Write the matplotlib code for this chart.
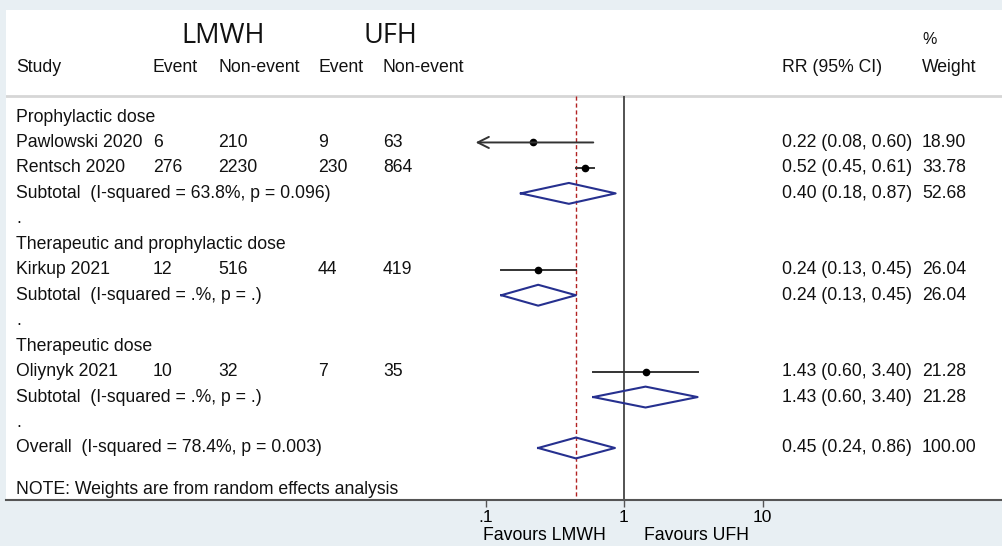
import numpy as np
import matplotlib
matplotlib.use("Agg")
import matplotlib.pyplot as plt
from matplotlib.transforms import blended_transform_factory

plt.rcParams['font.family'] = ['Liberation Sans', 'DejaVu Sans']

# one entry per table row
row_labels = ["Prophylactic dose", "Pawlowski 2020", "Rentsch 2020",
              "Subtotal  (I-squared = 63.8%, p = 0.096)", ".",
              "Therapeutic and prophylactic dose", "Kirkup 2021",
              "Subtotal  (I-squared = .%, p = .)", ".",
              "Therapeutic dose", "Oliynyk 2021",
              "Subtotal  (I-squared = .%, p = .)", ".",
              "Overall  (I-squared = 78.4%, p = 0.003)"]
row_kind = ["head", "study", "study", "sub", "blank",
            "head", "study", "sub", "blank",
            "head", "study", "sub", "blank", "sub"]
rr = [None, 0.22, 0.52, 0.40, None, None, 0.24, 0.24, None, None, 1.43, 1.43, None, 0.45]
ci_lo = [None, 0.08, 0.45, 0.18, None, None, 0.13, 0.13, None, None, 0.60, 0.60, None, 0.24]
ci_hi = [None, 0.60, 0.61, 0.87, None, None, 0.45, 0.45, None, None, 3.40, 3.40, None, 0.86]
weight = [None, "18.90", "33.78", "52.68", None, None, "26.04", "26.04", None, None,
          "21.28", "21.28", None, "100.00"]
lmwh_event = [None, "6", "276", None, None, None, "12", None, None, None, "10", None, None, None]
lmwh_non = [None, "210", "2230", None, None, None, "516", None, None, None, "32", None, None, None]
ufh_event = [None, "9", "230", None, None, None, "44", None, None, None, "7", None, None, None]
ufh_non = [None, "63", "864", None, None, None, "419", None, None, None, "35", None, None, None]
overall_rr = 0.45
xticks = [0.1, 1, 10]
xtick_labels = [".1", "1", "10"]

W, H = 1002, 546
fig = plt.figure(figsize=(W / 100, H / 100), dpi=100)
fig.patch.set_facecolor('#e8eff3')

ax = fig.add_axes([6 / W, 46 / H, 996 / W, 490 / H])
ax.set_facecolor('white')
ax.set_xscale('log')
# 0.1 -> 486px, 1 -> 624px, 10 -> 763px
dec = 138.5
ax.set_xlim(10 ** ((6 - 624) / dec), 10 ** ((1002 - 624) / dec))
y0, step = 117, 25.46
ax.set_ylim((500 - y0) / step, (10 - y0) / step)
for s in ['top', 'left', 'right']:
    ax.spines[s].set_visible(False)
ax.spines['bottom'].set_color('#555555')
ax.spines['bottom'].set_linewidth(1.5)
ax.set_yticks([])
ax.set_xticks(xticks)
ax.set_xticklabels(xtick_labels, fontsize=12.5)
ax.minorticks_off()
ax.tick_params(axis='x', length=5, width=1, color='#555555', pad=2)

r_line = (96 - y0) / step
r_bot = (500 - y0) / step
ax.axhline(r_line, color='#d6d6d6', lw=2)
ax.vlines(1, r_line, r_bot, color='#444444', lw=1.3)
ax.vlines(overall_rr, r_line, r_bot, color='#b22222', lw=1, linestyles=(0, (3, 2)))

tr = blended_transform_factory(fig.transFigure, ax.transData)
fs = 12.7


def put(x, r, s, **kw):
    kw.setdefault('fontsize', fs)
    ax.text(x / W, r, s, transform=tr, va='center', ha='left', color='#111111', **kw)


# header
rh = (67 - y0) / step
put(16, rh, "Study")
put(153, rh, "Event")
put(218, rh, "Non-event")
put(318, rh, "Event")
put(383, rh, "Non-event")
put(782, rh, "RR (95% CI)")
put(922, rh, "Weight")
put(922, (40 - y0) / step, "%", fontsize=11.5)
put(181, (36 - y0) / step, "LMWH", fontsize=19.5, family=['Open Sans', 'DejaVu Sans'])
put(364, (36 - y0) / step, "UFH", fontsize=19.5, family=['Open Sans', 'DejaVu Sans'])

navy = '#26308f'
for i, lab in enumerate(row_labels):
    put(16, i, lab)
    if lmwh_event[i] is not None:
        put(153, i, lmwh_event[i])
        put(218, i, lmwh_non[i])
        put(318, i, ufh_event[i])
        put(383, i, ufh_non[i])
    if rr[i] is None:
        continue
    put(782, i, f"{rr[i]:.2f} ({ci_lo[i]:.2f}, {ci_hi[i]:.2f})")
    put(922, i, weight[i])
    if row_kind[i] == "study":
        if ci_lo[i] < 0.1:
            ax.annotate('', xy=(ci_lo[i] * 1.06, i), xytext=(ci_hi[i], i),
                        arrowprops=dict(arrowstyle='->', lw=1.4, color='#333333',
                                        shrinkA=0, shrinkB=0, mutation_scale=20))
        else:
            ax.plot([ci_lo[i], ci_hi[i]], [i, i], color='#333333', lw=1.4)
        ax.plot(rr[i], i, 'o', color='black', ms=4.5)
    else:
        hh = 0.41
        ax.plot([ci_lo[i], rr[i], ci_hi[i], rr[i], ci_lo[i]],
                [i, i - hh, i, i + hh, i], color=navy, lw=1.5)

put(16, (489 - y0) / step, "NOTE: Weights are from random effects analysis")

fig.text(544 / W, 1 - 535 / H, "Favours LMWH", ha='center', va='center', fontsize=12.7)
fig.text(696 / W, 1 - 535 / H, "Favours UFH", ha='center', va='center', fontsize=12.7)

fig.savefig("out.png", dpi=100, facecolor=fig.get_facecolor())
